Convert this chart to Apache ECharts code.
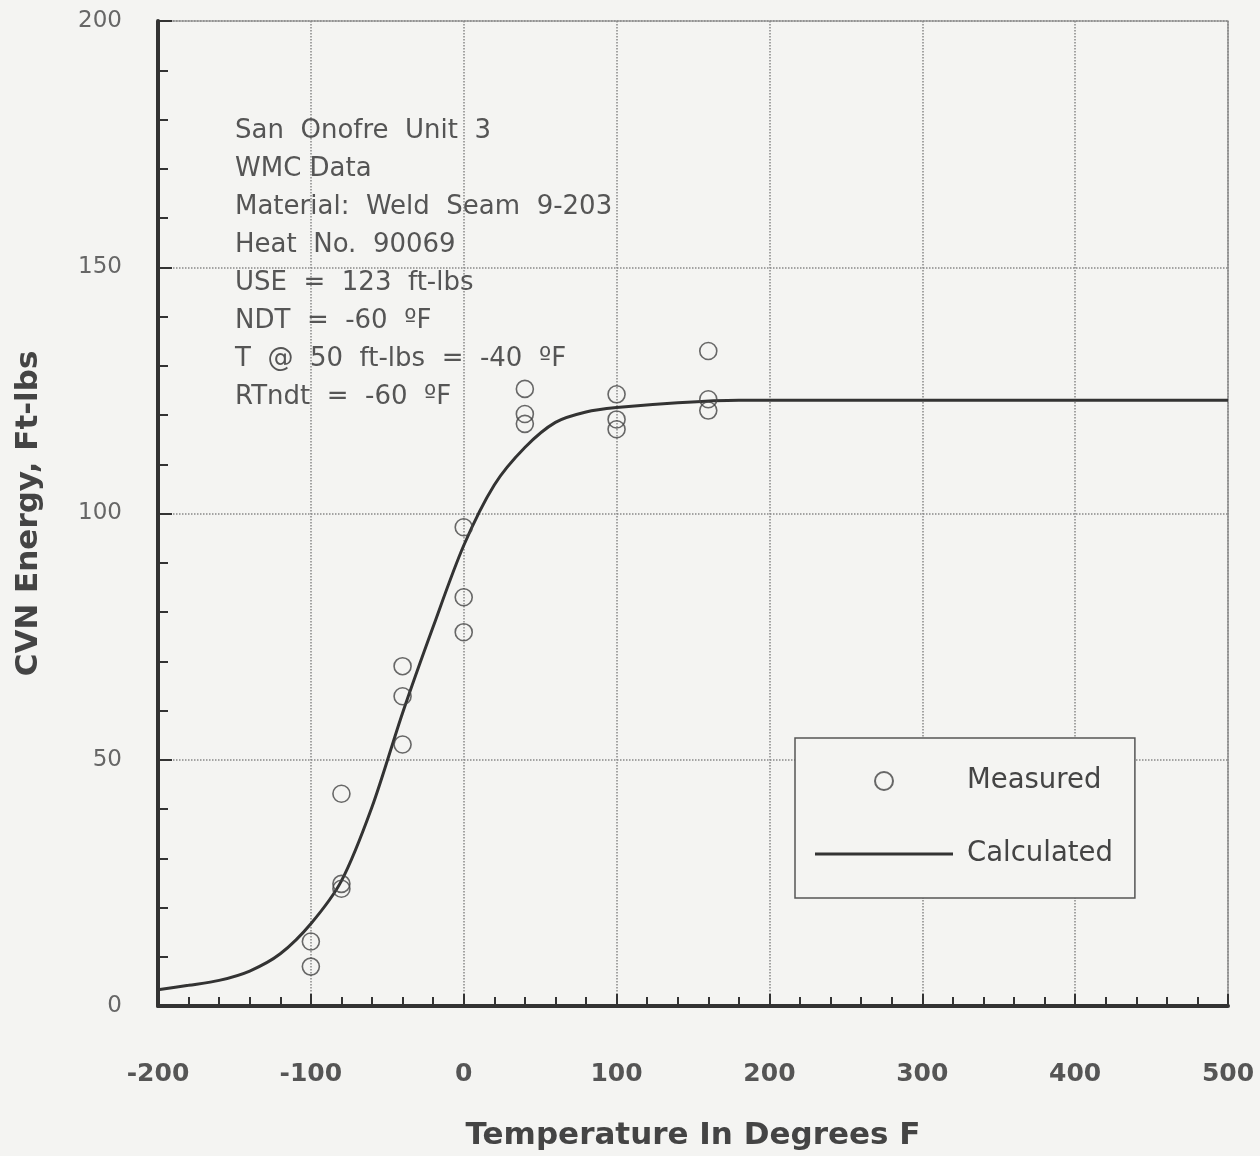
<!DOCTYPE html>
<html>
<head>
<meta charset="utf-8">
<script src="https://cdn.jsdelivr.net/npm/echarts@6/dist/echarts.min.js"></script>
<style>
html,body{margin:0;padding:0;background:#f4f4f2;}
#chart{width:1260px;height:1156px;}
</style>
</head>
<body>
<div id="chart"></div>
<script>
// Measured CVN data [temperature F, energy ft-lbs]
const measuredTemp = [-100, -100, -80, -80, -80, -40, -40, -40, 0, 0, 0, 40, 40, 40, 100, 100, 100, 160, 160, 160];
const measuredCVN  = [13.1, 8.0, 24.8, 23.8, 43.1, 69.0, 62.9, 53.1, 97.2, 83.0, 75.9, 125.3, 120.2, 118.2, 124.2, 119.1, 117.1, 133.0, 123.2, 120.9];
// Calculated (fitted) curve
const curveTemp = [-200, -180, -160, -140, -120, -100, -80, -60, -40, -20, 0, 20, 40, 60, 80, 100, 140, 180, 250, 350, 500];
const curveCVN  = [3.3, 4.2, 5.2, 7.1, 10.6, 16.7, 25.4, 40.4, 59.5, 77.0, 93.5, 105.8, 113.4, 118.5, 120.6, 121.5, 122.5, 123, 123, 123, 123];
const xTicks = [-200, -100, 0, 100, 200, 300, 400, 500];
const yTicks = [0, 50, 100, 150, 200];
const notes = [
  'San  Onofre  Unit  3',
  'WMC Data',
  'Material:  Weld  Seam  9-203',
  'Heat  No.  90069',
  'USE  =  123  ft-lbs',
  'NDT  =  -60  ºF',
  'T  @  50  ft-lbs  =  -40  ºF',
  'RTndt  =  -60  ºF'
];

const chart = echarts.init(document.getElementById('chart'));
const font = 'DejaVu Sans, Liberation Sans, sans-serif';
const option = {
  backgroundColor: '#f4f4f2',
  animation: false,
  grid: {left: 158, right: 32, top: 21, bottom: 148, show: true, borderColor: '#777', borderWidth: 1.2, backgroundColor: 'transparent'},
  xAxis: {
    type: 'value', min: xTicks[0], max: xTicks[xTicks.length - 1], interval: 100,
    name: 'Temperature In Degrees F', nameLocation: 'middle', nameGap: 114,
    nameTextStyle: {fontFamily: font, fontSize: 31, fontWeight: 'bold', color: '#444'},
    axisLine: {onZero: false, lineStyle: {color: '#333', width: 4}},
    axisTick: {inside: true, length: 12, lineStyle: {color: '#333', width: 2}},
    minorTick: {show: true, splitNumber: 5, length: 9, lineStyle: {color: '#333', width: 2}},
    axisLabel: {margin: 56, fontFamily: font, fontSize: 25, color: '#555', fontWeight: 'bold'},
    splitLine: {show: true, lineStyle: {type: 'dotted', color: '#888', width: 1.5}}
  },
  yAxis: {
    type: 'value', min: yTicks[0], max: yTicks[yTicks.length - 1], interval: 50,
    name: 'CVN Energy, Ft-lbs', nameLocation: 'middle', nameGap: 114,
    nameTextStyle: {fontFamily: font, fontSize: 31, fontWeight: 'bold', color: '#444'},
    axisLine: {onZero: false, lineStyle: {color: '#333', width: 4}},
    axisTick: {inside: true, length: 14, lineStyle: {color: '#333', width: 2}},
    minorTick: {show: true, splitNumber: 5, length: 10, lineStyle: {color: '#333', width: 2}},
    axisLabel: {margin: 36, fontFamily: font, fontSize: 23, color: '#666'},
    splitLine: {show: true, lineStyle: {type: 'dotted', color: '#888', width: 1.5}}
  },
  legend: {
    left: 795, top: 738, orient: 'vertical',
    padding: [29, 22, 30, 20], itemGap: 45,
    itemWidth: 138, itemHeight: 18,
    borderColor: '#555', borderWidth: 1.5, backgroundColor: '#f4f4f2',
    textStyle: {fontFamily: font, fontSize: 27.5, color: '#444', padding: [0, 0, 0, 9]},
    data: [
      {name: 'Measured'},
      {name: 'Calculated', icon: 'path://M0,0 L138,0 L138,3 L0,3 Z', itemStyle: {color: '#333', borderWidth: 0}}
    ]
  },
  graphic: notes.map((t, i) => ({
    type: 'text', left: 235, top: 118 + i * 38.1, z: 10,
    style: {text: t, fontFamily: font, fontSize: 26, fill: '#555'}
  })),
  series: [
    {
      name: 'Calculated', type: 'line', smooth: 0.3, showSymbol: false, symbol: 'none',
      data: curveTemp.map((t, i) => [t, curveCVN[i]]),
      lineStyle: {color: '#333', width: 3}, itemStyle: {color: '#333'}, z: 3
    },
    {
      name: 'Measured', type: 'scatter', symbol: 'circle', symbolSize: 17,
      data: measuredTemp.map((t, i) => [t, measuredCVN[i]]),
      itemStyle: {color: 'rgba(0,0,0,0)', borderColor: '#444', borderWidth: 1.6}, z: 4
    }
  ]
};
chart.setOption(option);
</script>
</body>
</html>
